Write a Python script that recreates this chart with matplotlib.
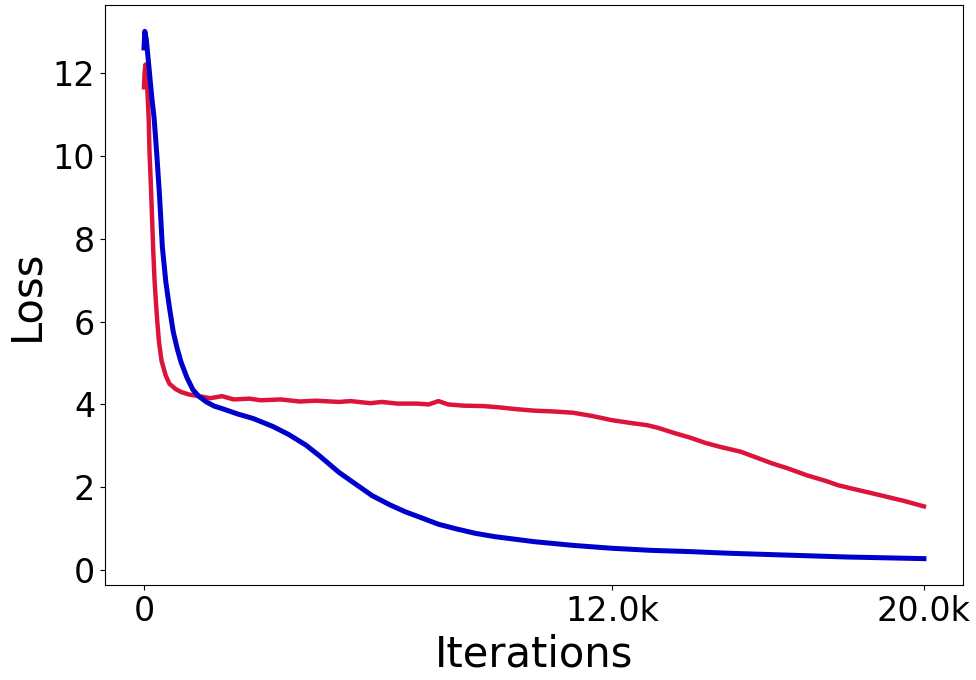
import matplotlib
matplotlib.use("Agg")
import matplotlib.pyplot as plt

# Red series (loss vs iterations)
red_x = [0, 15, 40, 70, 95, 120, 140, 180, 235, 270, 300, 340, 385, 450, 556, 650, 812,
         950, 1150, 1400, 1700, 2000, 2300, 2700, 3000, 3500, 4000, 4400, 5000, 5300, 5800,
         6100, 6500, 7000, 7300, 7550, 7800, 8200, 8700, 9100, 9500, 10000, 10500, 11000,
         11500, 12000, 12500, 12900, 13200, 13600, 14000, 14400, 14800, 15300, 15700, 16100,
         16500, 17000, 17500, 17800, 18200, 18700, 19100, 19500, 20000]
red_y = [11.65, 12.0, 12.2, 11.9, 11.4, 10.9, 10.1, 9.2, 7.75, 7.0, 6.55, 6.0, 5.5, 5.05, 4.7, 4.5, 4.37,
         4.3, 4.24, 4.2, 4.15, 4.2, 4.12, 4.14, 4.1, 4.12, 4.07, 4.09, 4.06, 4.08, 4.03,
         4.06, 4.02, 4.02, 4.0, 4.08, 4.0, 3.97, 3.96, 3.93, 3.89, 3.85, 3.83, 3.8,
         3.72, 3.62, 3.55, 3.5, 3.43, 3.31, 3.2, 3.07, 2.97, 2.86, 2.72, 2.58,
         2.46, 2.29, 2.15, 2.05, 1.96, 1.85, 1.76, 1.67, 1.54]

# Blue series
blue_x = [0, 20, 60, 100, 150, 200, 260, 330, 400, 470, 560, 650, 750, 850, 950, 1100, 1250,
          1400, 1600, 1800, 2000, 2400, 2800, 3300, 3700, 4150, 4500, 5000, 5500,
          5850, 6300, 6700, 7100, 7550, 8000, 8500, 9000, 9500, 10000, 11000, 12000, 13000, 14000,
          15000, 16000, 17000, 18000, 19000, 20000]
blue_y = [12.6, 13.0, 12.8, 12.4, 11.9, 11.4, 10.9, 10.0, 9.0, 7.8, 6.95, 6.35, 5.75, 5.35, 5.02, 4.65, 4.36,
          4.2, 4.06, 3.96, 3.9, 3.77, 3.66, 3.47, 3.28, 3.02, 2.76, 2.36, 2.03,
          1.8, 1.58, 1.41, 1.27, 1.11, 1.0, 0.89, 0.81, 0.75, 0.69, 0.6, 0.53, 0.48, 0.45,
          0.41, 0.38, 0.35, 0.32, 0.3, 0.28]

xtick_vals = [0, 12000, 20000]
xtick_labels = ["0", "12.0k", "20.0k"]
ytick_vals = [0, 2, 4, 6, 8, 10, 12]

fig = plt.figure(figsize=(9.76, 6.8), dpi=100)
ax = fig.add_axes([0.1076, 0.1397, 0.879, 0.853])
ax.plot(red_x, red_y, color="crimson", lw=3.2)
ax.plot(blue_x, blue_y, color="mediumblue", lw=3.6)
ax.set_xticks(xtick_vals)
ax.set_xticklabels(xtick_labels)
ax.set_yticks(ytick_vals)
ax.tick_params(labelsize=24)
ax.set_xlabel("Iterations", fontsize=30)
ax.set_ylabel("Loss", fontsize=30)
fig.savefig("out.png", dpi=100)
